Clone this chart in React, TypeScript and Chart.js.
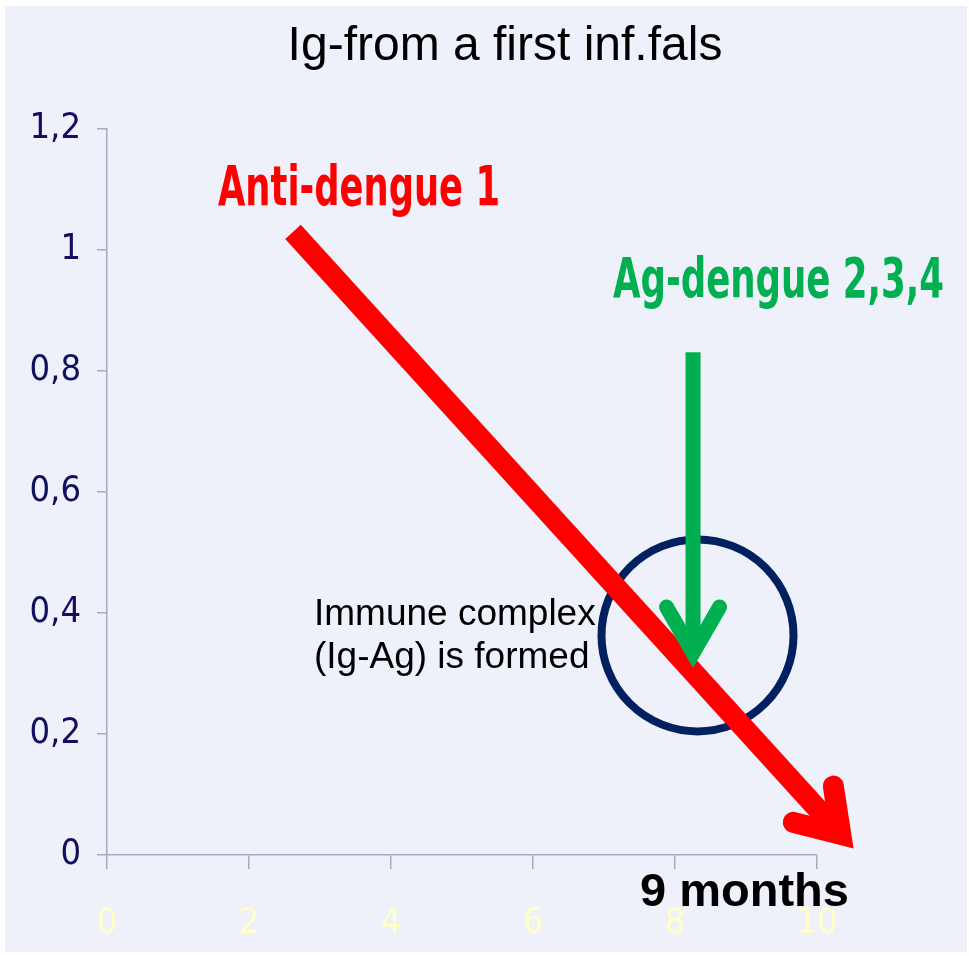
import React, { useEffect, useRef } from 'react';
import { Chart, registerables } from 'chart.js';

Chart.register(...registerables);

// ---- data ----
const xTickValues = [0, 2, 4, 6, 8, 10];
const xTickLabels = ['0', '2', '4', '6', '8', '10'];
const yTickValues = [0, 0.2, 0.4, 0.6, 0.8, 1, 1.2];
const yTickLabels = ['0', '0,2', '0,4', '0,6', '0,8', '1', '1,2'];

// red decline arrow (start, head vertex)
const redArrowX = [2.62, 10.335];
const redArrowY = [1.03, 0.034];
// green antigen arrow (start, head vertex)
const greenArrowX = [8.254, 8.254];
const greenArrowY = [0.831, 0.334];
// immune complex circle centre
const circleX = [8.317];
const circleY = [0.363];

const titleText = 'Ig-from a first inf.fals';
const antiLabel = 'Anti-dengue 1';
const agLabel = 'Ag-dengue 2,3,4';
const immuneLines = ['Immune complex', '(Ig-Ag) is formed'];
const monthsLabel = '9 months';

// ---- styles ----
const BG = '#eef0fa';
const AXIS = '#a6abc0';
const RED = '#ff0000';
const GREEN = '#00b050';
const NAVY = '#002060';
const NARROW = "'DejaVu Sans Condensed', 'DejaVu Sans', sans-serif";
const ARIAL = "'Liberation Sans', Arial, sans-serif";

function drawHead(ctx: CanvasRenderingContext2D, vx: number, vy: number, fromX: number, fromY: number,
  halfAngleDeg: number, len: number, width: number, color: string) {
  const back = Math.atan2(fromY - vy, fromX - vx);
  const a = (halfAngleDeg * Math.PI) / 180;
  const b1 = back + a;
  const b2 = back - a;
  ctx.save();
  ctx.beginPath();
  ctx.moveTo(vx + len * Math.cos(b1), vy + len * Math.sin(b1));
  ctx.lineTo(vx, vy);
  ctx.lineTo(vx + len * Math.cos(b2), vy + len * Math.sin(b2));
  ctx.lineWidth = width;
  ctx.lineJoin = 'miter';
  ctx.miterLimit = 10;
  ctx.lineCap = 'round';
  ctx.strokeStyle = color;
  ctx.stroke();
  ctx.restore();
}

const decorPlugin = {
  id: 'decor',
  beforeDraw(chart: any) {
    const ctx = chart.ctx as CanvasRenderingContext2D;
    ctx.save();
    ctx.fillStyle = '#ffffff';
    ctx.fillRect(0, 0, chart.width, chart.height);
    ctx.fillStyle = BG;
    ctx.fillRect(5, 6, chart.width - 7, chart.height - 10);
    ctx.fillStyle = '#000000';
    ctx.font = `normal 48px ${ARIAL}`;
    ctx.textAlign = 'center';
    ctx.textBaseline = 'alphabetic';
    ctx.fillText(titleText, 505, 60);
    ctx.restore();
  },
  beforeDatasetsDraw(chart: any) {
    const ctx = chart.ctx as CanvasRenderingContext2D;
    const xs = chart.scales.x;
    const ys = chart.scales.y;
    ctx.save();
    ctx.beginPath();
    ctx.arc(xs.getPixelForValue(circleX[0]), ys.getPixelForValue(circleY[0]), 96, 0, Math.PI * 2);
    ctx.lineWidth = 8;
    ctx.strokeStyle = NAVY;
    ctx.stroke();
    ctx.restore();
  },
  afterDatasetsDraw(chart: any) {
    const ctx = chart.ctx as CanvasRenderingContext2D;
    const xs = chart.scales.x;
    const ys = chart.scales.y;
    const px = (v: number) => xs.getPixelForValue(v);
    const py = (v: number) => ys.getPixelForValue(v);

    drawHead(ctx, px(redArrowX[1]), py(redArrowY[1]), px(redArrowX[0]), py(redArrowY[0]), 33.5, 49, 21, RED);
    drawHead(ctx, px(greenArrowX[1]), py(greenArrowY[1]), px(greenArrowX[0]), py(greenArrowY[0]), 30, 53, 15, GREEN);

    ctx.save();
    ctx.textBaseline = 'alphabetic';
    ctx.textAlign = 'center';
    ctx.fillStyle = RED;
    ctx.font = `bold 55px ${NARROW}`;
    ctx.fillText(antiLabel, px(3.549), py(1.0744), 282);
    ctx.fillStyle = GREEN;
    ctx.fillText(agLabel, px(9.458), py(0.922), 331);

    ctx.textAlign = 'left';
    ctx.fillStyle = '#000000';
    ctx.font = `normal 37px ${ARIAL}`;
    ctx.fillText(immuneLines[0], px(2.915), py(0.380));
    ctx.fillText(immuneLines[1], px(2.915), py(0.309));

    ctx.font = `bold 47px ${ARIAL}`;
    ctx.fillText(monthsLabel, px(7.507), py(-0.0843));
    ctx.restore();
  },
};

export default function App() {
  const ref = useRef<HTMLCanvasElement | null>(null);
  useEffect(() => {
    if (!ref.current) return;
    const chart = new Chart(ref.current, {
      type: 'scatter',
      data: {
        datasets: [
          {
            label: 'Ag-dengue 2,3,4',
            data: greenArrowX.map((x, i) => ({ x, y: greenArrowY[i] })),
            showLine: true,
            borderColor: GREEN,
            backgroundColor: GREEN,
            borderWidth: 15,
            borderCapStyle: 'butt',
            pointRadius: 0,
            clip: false as any,
          },
          {
            label: 'Anti-dengue 1',
            data: redArrowX.map((x, i) => ({ x, y: redArrowY[i] })),
            showLine: true,
            borderColor: RED,
            backgroundColor: RED,
            borderWidth: 21,
            borderCapStyle: 'butt',
            pointRadius: 0,
            clip: false as any,
          },
        ],
      },
      options: {
        animation: false,
        responsive: false,
        devicePixelRatio: 1,
        layout: { padding: { top: 129, right: 152, bottom: 0, left: 0 } },
        plugins: {
          legend: { display: false },
          tooltip: { enabled: false },
          title: { display: false },
        },
        scales: {
          x: {
            type: 'linear',
            min: 0,
            max: 10,
            afterBuildTicks: (s: any) => { s.ticks = xTickValues.map((v) => ({ value: v })); },
            afterFit: (s: any) => { s.height = 101; },
            ticks: {
              color: '#ffffc8',
              font: { family: NARROW, size: 36 },
              padding: 33,
              maxRotation: 0,
              autoSkip: false,
              callback: (_v: any, i: number) => xTickLabels[i],
            },
            grid: { drawOnChartArea: false, tickLength: 14, color: AXIS, lineWidth: 1.5 },
            border: { display: true, color: AXIS, width: 1.5 },
          },
          y: {
            type: 'linear',
            min: 0,
            max: 1.2,
            afterBuildTicks: (s: any) => { s.ticks = yTickValues.map((v) => ({ value: v })); },
            afterFit: (s: any) => { s.width = 107; },
            ticks: {
              color: '#10105f',
              font: { family: NARROW, size: 36 },
              padding: 16,
              autoSkip: false,
              callback: (_v: any, i: number) => yTickLabels[i],
            },
            grid: { drawOnChartArea: false, tickLength: 10, color: AXIS, lineWidth: 1.5 },
            border: { display: true, color: AXIS, width: 1.5 },
          },
        },
      },
      plugins: [decorPlugin],
    });
    return () => chart.destroy();
  }, []);
  return (
    <div style={{ position: 'fixed', left: 0, top: 0, width: 969, height: 956 }}>
      <canvas ref={ref} width={969} height={956} style={{ display: 'block', width: 969, height: 956 }} />
    </div>
  );
}
